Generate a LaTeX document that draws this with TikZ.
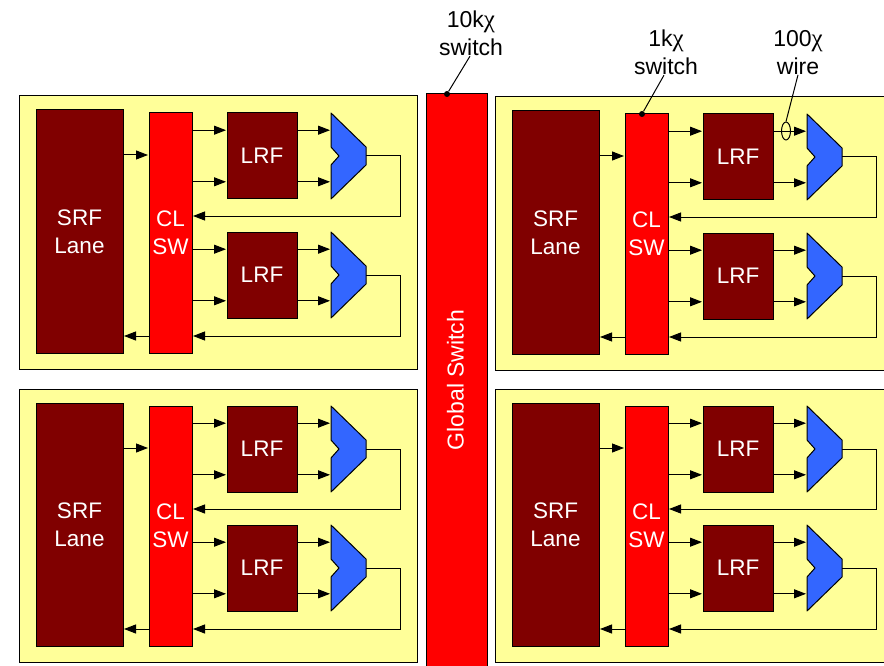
\documentclass[tikz,border=0pt]{standalone}
\usepackage{fontspec}
\setmainfont{Liberation Sans}
\newfontfamily\chifont{Liberation Serif}
\usetikzlibrary{arrows.meta, positioning, calc, shapes.geometric}
\definecolor{cPanel}{RGB}{255,255,153}
\definecolor{cDark}{RGB}{128,0,0}
\definecolor{cSwitch}{RGB}{255,0,0}
\definecolor{cMux}{RGB}{51,102,255}
\newcommand{\ohm}{{\chifont\fontsize{25}{28}\selectfont χ}}
\tikzset{
  block/.style={draw=black, line width=1pt, inner sep=0pt, outer sep=0pt, text=white, align=center,
    font=\fontsize{22.5}{28}\selectfont},
  panelbox/.style={block, fill=cPanel, minimum width=398pt, minimum height=273pt},
  srfbox/.style={block, fill=cDark, minimum width=87pt, minimum height=243pt},
  swbox/.style={block, fill=cSwitch, minimum width=43pt, minimum height=240pt},
  lrfbox/.style={block, fill=cDark, minimum width=70pt, minimum height=86pt},
  muxbox/.style={inner sep=0pt, outer sep=0pt, minimum width=35pt, minimum height=86pt},
  wire/.style={line width=1pt, draw=black},
  arrow/.style={wire, -{Triangle[length=12pt, width=9pt]}, shorten >=1pt},
  note/.style={align=center, inner sep=0pt, font=\fontsize{23}{28}\selectfont},
  leader/.style={line width=1pt, draw=black},
  dot/.style={circle, fill=black, inner sep=0pt, minimum size=6pt}
}
% one mux drawn on its empty node
\newcommand{\muxshape}[1]{
  \draw[line width=1pt, fill=cMux, line join=round] (#1.north west) -- ++(35,34) -- ++(0,18) -- ++(-35,34)
    -- ++(0,-34) -- ++(8,-9) -- ++(-8,-9) -- cycle;
}
% one lane: name, left, top
\newcommand{\lane}[3]{
  \node[panelbox, anchor=north west] (#1panel) at (#2,#3) {};
  \node[srfbox, below right=14pt and 17pt of #1panel.north west] (#1srf) {SRF\\Lane};
  \node[swbox, right=26pt of #1srf.south east, anchor=south west] (#1cl) {CL\\SW};
  \node[lrfbox, below right=0pt and 35pt of #1cl.north east] (#1lrfa) {LRF};
  \node[lrfbox, below=33pt of #1lrfa] (#1lrfb) {LRF};
  \node[muxbox, right=34pt of #1lrfa] (#1muxa) {};
  \node[muxbox, right=34pt of #1lrfb] (#1muxb) {};
  \muxshape{#1muxa}
  \muxshape{#1muxb}
  \coordinate (#1in) at ($(#1srf.north east)+(0,45)$);
  \coordinate (#1reta) at ($(#1cl.north east)+(0,103)$);
  \coordinate (#1retb) at ($(#1cl.north east)+(0,223)$);
  \draw[arrow] (#1in) -- (#1cl.west |- #1in);
  \draw[arrow] (#1cl.west |- #1retb) -- (#1srf.east |- #1retb);
  \foreach \lrf/\mux in {lrfa/muxa, lrfb/muxb} {
    \foreach \f in {0.2, 0.8} {
      \coordinate (#1p) at ($(#1\lrf.north west)!\f!(#1\lrf.south west)$);
      \draw[arrow] (#1cl.east |- #1p) -- (#1p);
      \draw[arrow] (#1\lrf.east |- #1p) -- (#1\mux.west |- #1p);
    }
  }
  \draw[arrow] (#1muxa.east) -- ++(34,0) |- (#1reta);
  \draw[arrow] (#1muxb.east) -- ++(34,0) |- (#1retb);
}

\begin{document}
\begin{tikzpicture}[x=1pt, y=-1pt]
  \useasboundingbox (0,0) rectangle (884,666);
  \lane{tl}{19}{96}
  \lane{tr}{495}{97}
  \lane{bl}{19}{389}
  \lane{br}{495}{389}
  \node[block, fill=cSwitch, minimum width=61pt, minimum height=576pt, anchor=north west] (global) at (426,94) {};
  \node[text=white, rotate=90, inner sep=0pt, font=\fontsize{23}{28}\selectfont] (globallabel) at (455.5,380) {Global Switch};

  \node[note] (tenk) at (471,33.5) {10k\ohm\\switch};
  \node[note] (onek) at (666,52.5) {1k\ohm\\switch};
  \node[note] (hundred) at (798,52.5) {100\ohm\\wire};
  \node[dot] (tenkdot) at (447,94) {};
  \node[dot] (onekdot) at ($(trcl.north west)+(17,0)$) {};
  \node[draw, ellipse, line width=1pt, inner sep=0pt, minimum width=9pt, minimum height=18pt] (wirering) at (786,131) {};
  \draw[leader] (tenk.south) ++(-1,0) -- (tenkdot);
  \draw[leader] (onek.south) ++(-2,0) -- (onekdot);
  \draw[leader] (hundred.south) ++(0,0) -- (wirering.north);
\end{tikzpicture}
\end{document}
